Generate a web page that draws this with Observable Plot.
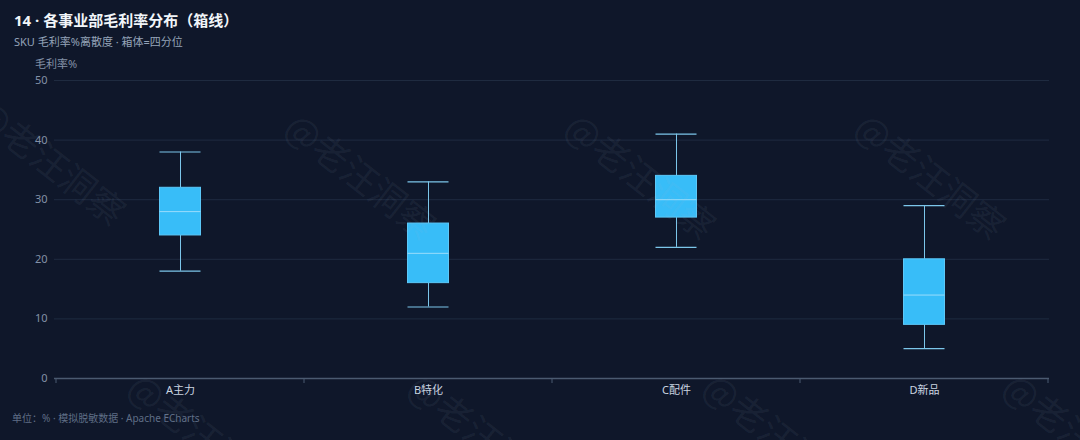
<!DOCTYPE html>
<html><head><meta charset="utf-8">
<script src="https://cdn.jsdelivr.net/npm/d3@7"></script>
<script src="https://cdn.jsdelivr.net/npm/@observablehq/plot@0.6"></script>
<style>
html,body{margin:0;padding:0;background:#0f172a;width:1080px;height:440px;overflow:hidden;font-family:"Noto Sans","Noto Sans CJK SC",sans-serif;}
#wrap{position:relative;width:1080px;height:440px;}
.t{position:absolute;white-space:nowrap;}
#title{left:14px;top:9px;font-size:15px;font-weight:700;color:#f1f5f9;}
#sub{left:14px;top:33px;font-size:11px;color:#94a3b8;}
#ylab{left:35px;top:55px;font-size:11px;color:#8391a7;}
#foot{left:12px;top:410px;font-size:10px;color:#5f6e86;}
#chart{position:absolute;left:0;top:50px;}
#wm{position:absolute;left:0;top:0;pointer-events:none;}
</style></head>
<body><div id="wrap">
<div class="t" id="title">14 · 各事业部毛利率分布（箱线）</div>
<div class="t" id="sub">SKU 毛利率%离散度 · 箱体=四分位</div>
<div class="t" id="ylab">毛利率%</div>
<div id="chart"></div>
<div class="t" id="foot">单位：% · 模拟脱敏数据 · Apache ECharts</div>
<svg id="wm" width="1080" height="440"></svg>
</div>
<script>
const categories = ["A主力","B特化","C配件","D新品"];
const lowValues   = [18, 12, 22, 5];
const q1Values    = [24, 16, 27, 9];
const medianValues= [28, 21, 30, 14];
const q3Values    = [32, 26, 34, 20];
const highValues  = [38, 33, 41, 29];
const yTicks = [0,10,20,30,40,50];

const data = categories.map((c,i)=>({cat:c, low:lowValues[i], q1:q1Values[i], med:medianValues[i], q3:q3Values[i], high:highValues[i]}));

const inset = 103.5;
const boundaryTicks = (index, scales, values, dims) => {
  const x = scales.x, y = scales.y;
  const bw = x.bandwidth ? x.bandwidth() : 0;
  const g = d3.create("svg:g");
  const y0 = y(0);
  categories.forEach(c => {
    const x0 = x(c);
    g.append("line").attr("x1",x0).attr("x2",x0).attr("y1",y0).attr("y2",y0+5).attr("stroke","#4b5a70");
  });
  const xe = x(categories[categories.length-1]) + bw;
  g.append("line").attr("x1",xe).attr("x2",xe).attr("y1",y0).attr("y2",y0+5).attr("stroke","#4b5a70");
  return g.node();
};

const plot = Plot.plot({
  width: 1080, height: 355,
  marginTop: 30, marginBottom: 27, marginLeft: 54, marginRight: 31,
  style: {background: "transparent", fontFamily: '"Noto Sans","Noto Sans CJK SC",sans-serif', fontSize: "11px"},
  x: {domain: categories, padding: 0, label: null, tickSize: 0, tickPadding: 7},
  y: {domain: [0,50], ticks: yTicks, label: null, tickSize: 0, tickPadding: 7},
  marks: [
    Plot.gridY(yTicks.filter(d=>d>0), {stroke: "#1f2b40", strokeOpacity: 1}),
    Plot.axisY({ticks: yTicks, tickSize: 0, tickPadding: 7, color: "#8391a7", label: null}),
    Plot.axisX({tickSize: 0, tickPadding: 8, color: "#cbd5e1", label: null}),
    Plot.ruleX(data, {x: "cat", y1: "low", y2: "q1", stroke: "#7cc6ea", strokeWidth: 1}),
    Plot.ruleX(data, {x: "cat", y1: "q3", y2: "high", stroke: "#7cc6ea", strokeWidth: 1}),
    Plot.tickY(data, {x: "cat", y: "low", stroke: "#7cc6ea", strokeWidth: 1.2, inset: inset}),
    Plot.tickY(data, {x: "cat", y: "high", stroke: "#7cc6ea", strokeWidth: 1.2, inset: inset}),
    Plot.barY(data, {x: "cat", y1: "q1", y2: "q3", fill: "#38bdf8", stroke: "#5cc8f8", strokeWidth: 1, insetLeft: inset, insetRight: inset}),
    Plot.tickY(data, {x: "cat", y: "med", stroke: "#9adcfb", strokeWidth: 1, inset: inset}),
    Plot.ruleY([0], {stroke: "#4b5a70", strokeWidth: 1.5}),
    boundaryTicks
  ]
});
document.getElementById("chart").appendChild(plot);

// faint watermark pattern
const wm = d3.select("#wm");
const rows = [{y: 118, xs: [-28, 282, 562, 852]}, {y: 392, xs: [125, 405, 700, 1000]}];
rows.forEach((r, ri) => r.xs.forEach((x, xi) => {
  const yy = (ri === 0 && xi === 0) ? 118 : r.y + (ri === 0 ? 14 : 0);
  wm.append("text").attr("transform", `translate(${x},${yy}) rotate(38)`)
    .attr("font-size", 36).attr("fill", "rgba(170,185,210,0.08)")
    .attr("font-family", '"Noto Sans CJK SC",sans-serif')
    .text("@老汪洞察");
}));
</script>
</body></html>
